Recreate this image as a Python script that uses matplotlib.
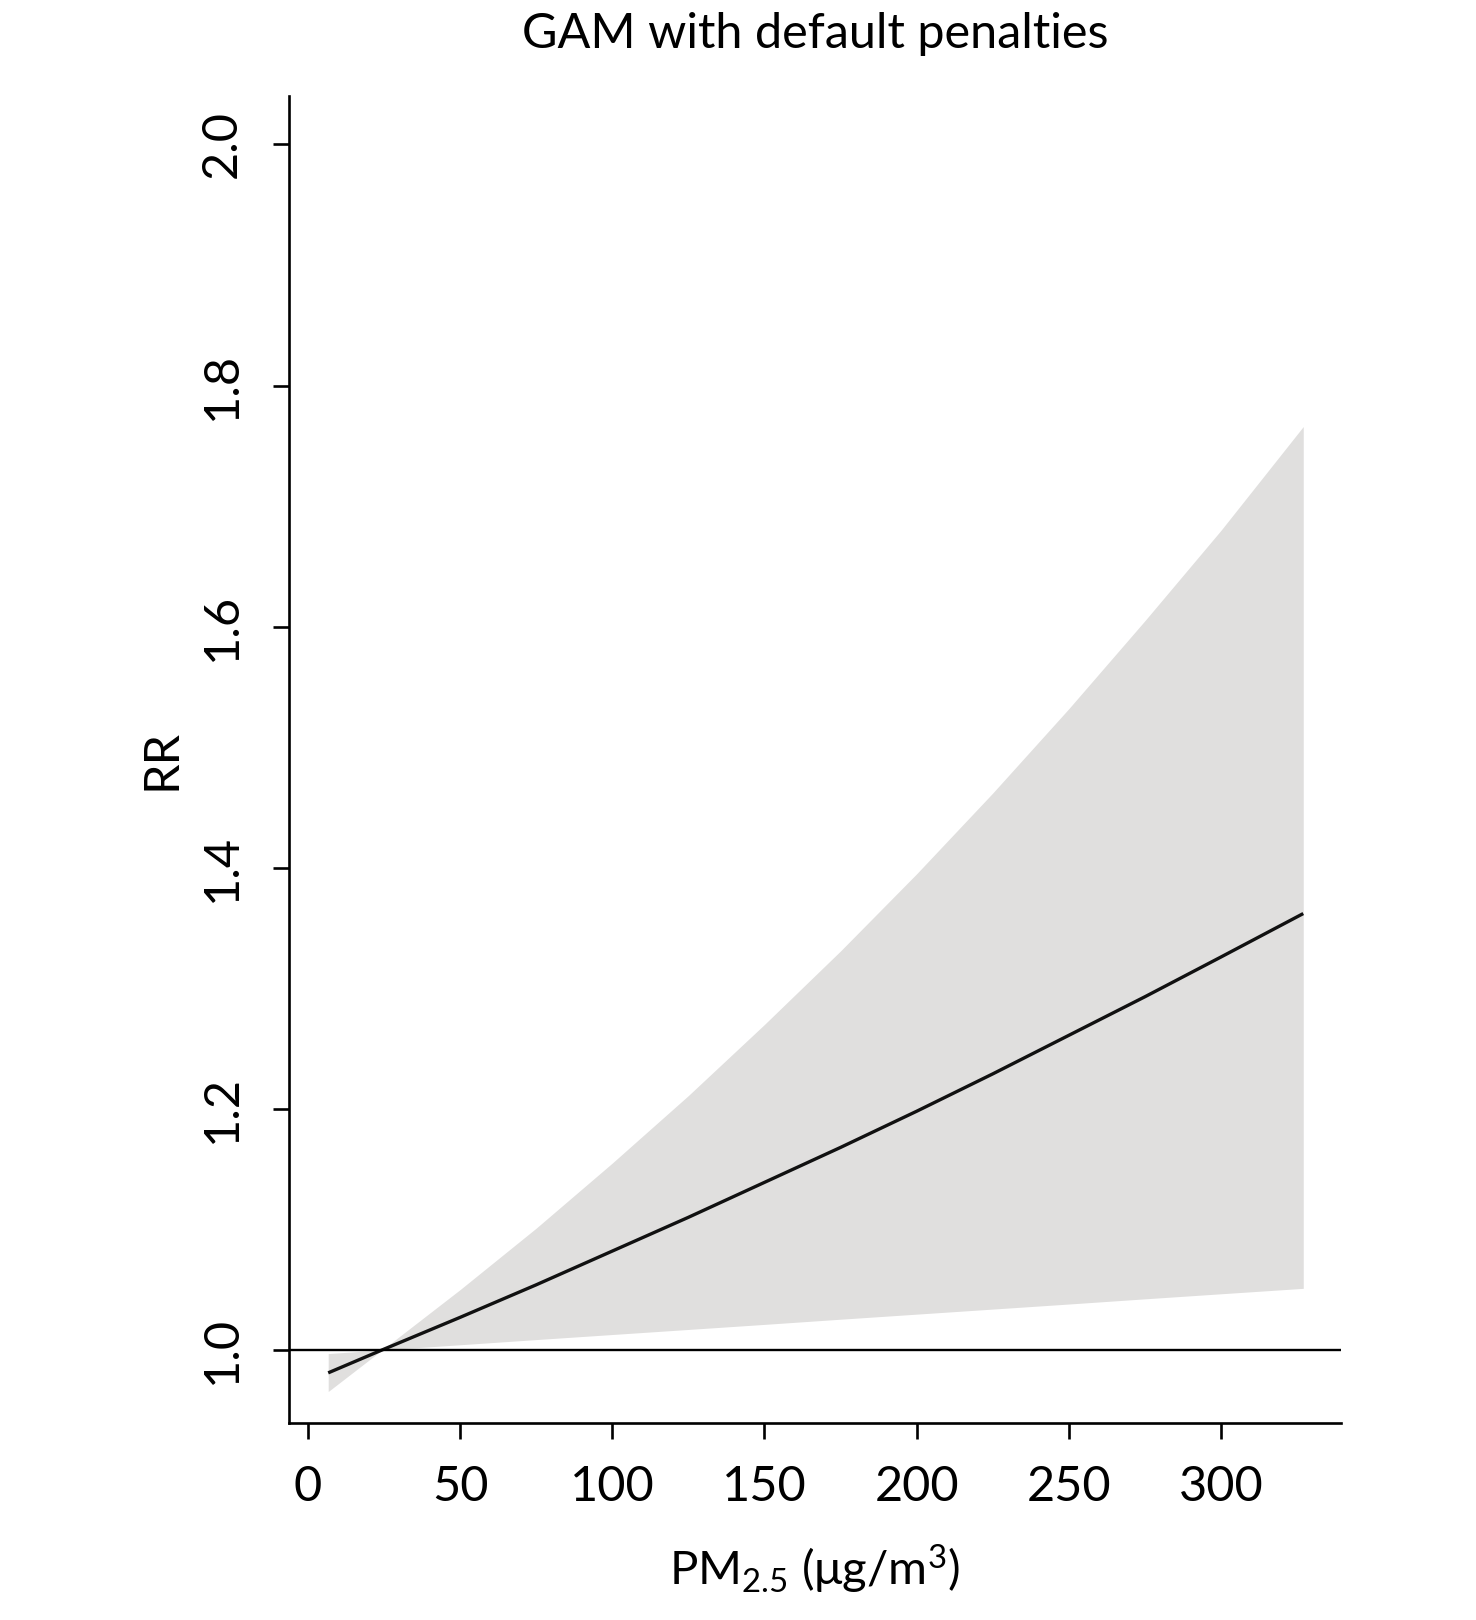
import matplotlib
matplotlib.use("Agg")
import matplotlib.pyplot as plt
from matplotlib import font_manager

# ---- data ----
pm25 = [6.7, 24.4, 50, 75, 100, 125, 150, 175, 200, 225, 250, 275, 300, 327]
rr_fit = [0.981, 1.000, 1.027, 1.054, 1.082, 1.110, 1.139, 1.168, 1.198, 1.229,
          1.261, 1.293, 1.326, 1.362]
rr_upper = [0.997, 1.000, 1.050, 1.101, 1.155, 1.211, 1.270, 1.331, 1.395, 1.462,
            1.532, 1.605, 1.680, 1.766]
rr_lower = [0.9655, 1.000, 1.0043, 1.0086, 1.0128, 1.0170, 1.0212, 1.0255, 1.0297,
            1.0339, 1.0381, 1.0424, 1.0466, 1.0511]
x_ticks = [0, 50, 100, 150, 200, 250, 300]
y_ticks = [1.0, 1.2, 1.4, 1.6, 1.8, 2.0]
y_tick_labels = ["1.0", "1.2", "1.4", "1.6", "1.8", "2.0"]
title = "GAM with default penalties"
xlabel = "PM$_{2.5}$ (μg/m$^{3}$)"
ylabel = "RR"

available = {f.name for f in font_manager.fontManager.ttflist}
FONT = "Liberation Sans Narrow" if "Liberation Sans Narrow" in available else "Lato"
plt.rcParams["font.family"] = [FONT, "DejaVu Sans"]
plt.rcParams["mathtext.fontset"] = "custom"
plt.rcParams["mathtext.rm"] = FONT
plt.rcParams["mathtext.it"] = FONT
plt.rcParams["mathtext.bf"] = FONT

W, H = 1476, 1620
fig = plt.figure(figsize=(W / 100, H / 100), dpi=100)
left, right, top, bottom = 289, 1341, 96, 1423
ax = fig.add_axes([left / W, 1 - bottom / H, (right - left) / W, (bottom - top) / H])

ax.fill_between(pm25, rr_lower, rr_upper, color="#E0DFDE", linewidth=0)
ax.plot(pm25, rr_fit, color="#111111", linewidth=2.4, solid_capstyle="butt")
ax.axhline(1.0, color="black", linewidth=1.7)

ax.set_xlim(-6.18, 339.4)
ax.set_ylim(0.9394, 2.0402)

for s in ["top", "right"]:
    ax.spines[s].set_visible(False)
for s in ["left", "bottom"]:
    ax.spines[s].set_linewidth(1.9)
    ax.spines[s].set_capstyle("projecting")

ax.set_xticks(x_ticks)
ax.set_xticklabels([str(v) for v in x_ticks])
ax.set_yticks(y_ticks)
ax.set_yticklabels(y_tick_labels)
ax.tick_params(axis="both", direction="out", length=11.5, width=1.9, labelsize=35)
ax.tick_params(axis="x", pad=19)
ax.tick_params(axis="y", pad=21)
for lab in ax.get_yticklabels():
    lab.set_rotation(90)
    lab.set_va("center")
    lab.set_ha("right")

fig.text(815 / W, 1 - 48.5 / H, title, ha="center", va="baseline", fontsize=35)
fig.text(815 / W, 1 - 1585.5 / H, xlabel, ha="center", va="baseline", fontsize=34)
fig.text(161 / W, 1 - 759 / H, ylabel, ha="center", va="center", rotation=90, fontsize=35)

fig.savefig("out.png", dpi=100)
